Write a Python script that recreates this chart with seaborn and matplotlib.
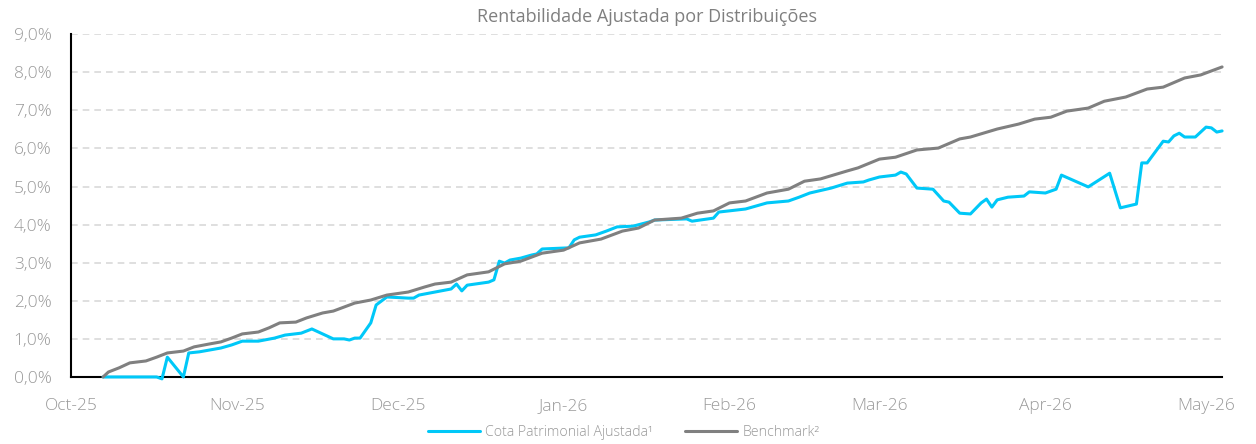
import matplotlib
matplotlib.use("Agg")
import matplotlib.pyplot as plt
import matplotlib.dates as mdates
from matplotlib.ticker import FuncFormatter
import numpy as np
import pandas as pd
import seaborn as sns

# Benchmark (%)
bench_dates = ["2025-10-07", "2025-10-08", "2025-10-10", "2025-10-12", "2025-10-15",
               "2025-10-17", "2025-10-19", "2025-10-22", "2025-10-24", "2025-10-27",
               "2025-10-29", "2025-10-31", "2025-11-02", "2025-11-05", "2025-11-07",
               "2025-11-09", "2025-11-12", "2025-11-14", "2025-11-17", "2025-11-19",
               "2025-11-23", "2025-11-26", "2025-11-29", "2025-12-03", "2025-12-06",
               "2025-12-08", "2025-12-11", "2025-12-14", "2025-12-18", "2025-12-21",
               "2025-12-24", "2025-12-28", "2026-01-01", "2026-01-04", "2026-01-08",
               "2026-01-12", "2026-01-15", "2026-01-18", "2026-01-23", "2026-01-26",
               "2026-01-29", "2026-02-01", "2026-02-04", "2026-02-08", "2026-02-12",
               "2026-02-15", "2026-02-18", "2026-02-23", "2026-02-25", "2026-03-01",
               "2026-03-04", "2026-03-08", "2026-03-12", "2026-03-16", "2026-03-18",
               "2026-03-23", "2026-03-27", "2026-03-30", "2026-04-02", "2026-04-05",
               "2026-04-09", "2026-04-12", "2026-04-16", "2026-04-20", "2026-04-23",
               "2026-04-27", "2026-04-30", "2026-05-04"]
bench_vals = [0.00, 0.13, 0.24, 0.37, 0.42, 0.52, 0.63, 0.68, 0.79, 0.87,
              0.92, 1.02, 1.13, 1.18, 1.29, 1.42, 1.44, 1.55, 1.68, 1.73,
              1.94, 2.02, 2.15, 2.23, 2.36, 2.44, 2.49, 2.68, 2.76, 2.97,
              3.04, 3.25, 3.33, 3.52, 3.62, 3.83, 3.91, 4.12, 4.17, 4.30,
              4.36, 4.57, 4.62, 4.83, 4.93, 5.14, 5.20, 5.41, 5.49, 5.72,
              5.77, 5.96, 6.01, 6.25, 6.30, 6.51, 6.64, 6.77, 6.82, 6.98,
              7.06, 7.24, 7.35, 7.56, 7.61, 7.85, 7.93, 8.14]

# Cota Patrimonial Ajustada (%)
cota_dates = ["2025-10-07", "2025-10-17", "2025-10-18", "2025-10-19", "2025-10-22",
              "2025-10-23", "2025-10-25", "2025-10-29", "2025-10-31", "2025-11-02",
              "2025-11-05", "2025-11-08", "2025-11-10", "2025-11-13", "2025-11-15",
              "2025-11-19", "2025-11-21", "2025-11-22", "2025-11-23", "2025-11-24",
              "2025-11-26", "2025-11-27", "2025-11-29", "2025-12-03", "2025-12-04",
              "2025-12-05", "2025-12-08", "2025-12-11", "2025-12-12", "2025-12-13",
              "2025-12-14", "2025-12-18", "2025-12-19", "2025-12-20", "2025-12-21",
              "2025-12-22", "2025-12-24", "2025-12-26", "2025-12-27", "2025-12-28",
              "2026-01-02", "2026-01-03", "2026-01-04", "2026-01-07", "2026-01-09",
              "2026-01-11", "2026-01-14", "2026-01-17", "2026-01-18", "2026-01-24",
              "2026-01-25", "2026-01-29", "2026-01-30", "2026-02-04", "2026-02-08",
              "2026-02-12", "2026-02-14", "2026-02-16", "2026-02-20", "2026-02-23",
              "2026-02-26", "2026-02-27", "2026-03-01", "2026-03-04", "2026-03-05",
              "2026-03-06", "2026-03-08", "2026-03-11", "2026-03-13", "2026-03-14",
              "2026-03-16", "2026-03-18", "2026-03-20", "2026-03-21", "2026-03-22",
              "2026-03-23", "2026-03-25", "2026-03-28", "2026-03-29", "2026-04-01",
              "2026-04-03", "2026-04-04", "2026-04-09", "2026-04-13", "2026-04-15",
              "2026-04-18", "2026-04-19", "2026-04-20", "2026-04-23", "2026-04-24",
              "2026-04-25", "2026-04-26", "2026-04-27", "2026-04-29", "2026-05-01",
              "2026-05-02", "2026-05-03", "2026-05-04"]
cota_vals = [0.00, 0.00, -0.05, 0.52, 0.00, 0.63, 0.66, 0.76, 0.84, 0.94,
             0.94, 1.02, 1.10, 1.15, 1.26, 1.00, 1.00, 0.97, 1.02, 1.02,
             1.42, 1.89, 2.10, 2.07, 2.07, 2.15, 2.23, 2.31, 2.44, 2.26,
             2.41, 2.49, 2.55, 3.04, 2.99, 3.07, 3.12, 3.20, 3.23, 3.36,
             3.39, 3.60, 3.67, 3.73, 3.83, 3.94, 3.96, 4.07, 4.12, 4.15,
             4.09, 4.17, 4.33, 4.41, 4.57, 4.62, 4.72, 4.83, 4.96, 5.09,
             5.12, 5.17, 5.25, 5.30, 5.38, 5.33, 4.96, 4.93, 4.62, 4.59,
             4.30, 4.28, 4.57, 4.67, 4.46, 4.65, 4.72, 4.75, 4.86, 4.83,
             4.93, 5.30, 4.99, 5.35, 4.44, 4.54, 5.62, 5.62, 6.19, 6.17,
             6.33, 6.40, 6.30, 6.30, 6.56, 6.54, 6.43, 6.46]

names = ["Cota Patrimonial Ajustada¹", "Benchmark²"]
colors = ["#00c8f8", "#808080"]

df = pd.concat([
    pd.DataFrame({"data": pd.to_datetime(cota_dates), "valor": cota_vals, "serie": names[0]}),
    pd.DataFrame({"data": pd.to_datetime(bench_dates), "valor": bench_vals, "serie": names[1]}),
])

sns.set_style("white")
plt.rcParams["font.family"] = ["Open Sans", "DejaVu Sans"]
plt.rcParams["font.weight"] = "light"

fig = plt.figure(figsize=(12.56, 4.44), dpi=100)
ax = fig.add_axes([0.0565, 0.151, 0.9165, 0.772])

sns.lineplot(data=df, x="data", y="valor", hue="serie", palette=dict(zip(names, colors)),
             linewidth=2.2, ax=ax, legend=False, estimator=None, sort=False)
for ln in ax.get_lines():
    ln.set_clip_on(False)
    ln.set_zorder(3)

ax.set_ylim(0, 9)
ax.set_yticks(np.arange(0, 10, 1))
ax.yaxis.set_major_formatter(FuncFormatter(lambda v, p: f"{v:.1f}%".replace(".", ",")))
ax.set_xlim(pd.Timestamp("2025-10-01"), pd.Timestamp("2026-05-04"))
ax.xaxis.set_major_locator(mdates.MonthLocator())
ax.xaxis.set_major_formatter(mdates.DateFormatter("%b-%y"))

ax.grid(axis="y", color="#d9d9d9", linestyle=(0, (4, 3)), linewidth=1.2)
ax.grid(axis="x", visible=False)
ax.set_axisbelow(True)
for s in ["top", "right"]:
    ax.spines[s].set_visible(False)
for s in ["left", "bottom"]:
    ax.spines[s].set_color("black")
    ax.spines[s].set_linewidth(1.5)
    ax.spines[s].set_zorder(2.5)
ax.tick_params(axis="both", colors="black", length=5, width=1.5, labelcolor="#999999",
               labelsize=12.5)
ax.tick_params(axis="y", pad=9)
ax.tick_params(axis="x", pad=10)
ax.set_xlabel("")
ax.set_ylabel("")

ax.set_title("Rentabilidade Ajustada por Distribuições", fontsize=13, color="#7f7f7f", pad=9)

handles = [plt.Line2D([], [], color=c, linewidth=2.2) for c in colors]
fig.legend(handles, names, loc="lower center", bbox_to_anchor=(0.4965, -0.02), ncol=2,
           frameon=False, fontsize=10.2, labelcolor="#999999", handlelength=3.7,
           handletextpad=0.35, columnspacing=2.25)

fig.savefig("out.png", dpi=100)
